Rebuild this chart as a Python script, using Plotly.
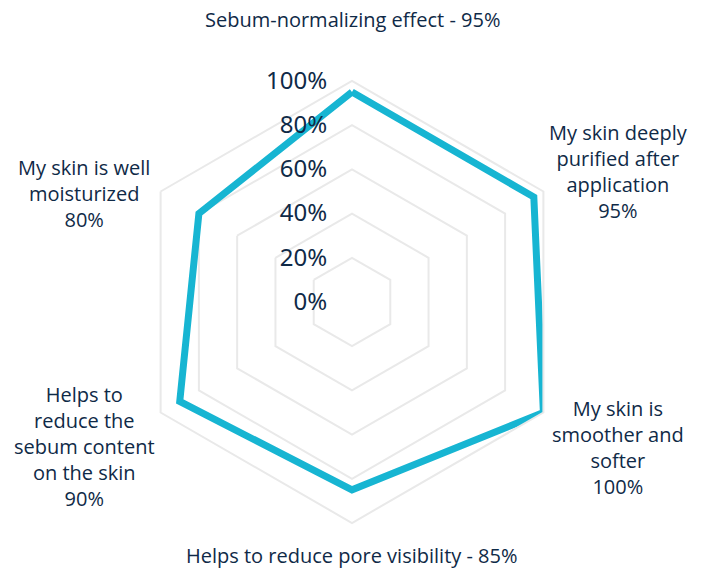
import plotly.graph_objects as go

categories = [
    "Sebum-normalizing effect",
    "My skin deeply purified after application",
    "My skin is smoother and softer",
    "Helps to reduce pore visibility",
    "Helps to reduce the sebum content on the skin",
    "My skin is well moisturized",
]
values = [95, 95, 100, 85, 90, 80]
label_texts = [
    "Sebum-normalizing effect - 95%",
    "My skin deeply<br>purified after<br>application<br>95%",
    "My skin is<br>smoother and<br>softer<br>100%",
    "Helps to reduce pore visibility - 85%",
    "Helps to<br>reduce the<br>sebum content<br>on the skin<br>90%",
    "My skin is well<br>moisturized<br>80%",
]
radial_ticks = [0, 20, 40, 60, 80, 100]
radial_ticktext = ["0%", "20%", "40%", "60%", "80%", "100%"]

W, H = 704, 568
NAVY = "#0f2a47"
CYAN = "#17b5d2"
GRID = "#e9e9e9"

# label anchor positions in pixels (centre of text block)
label_px = [(352, 20), (618, 171), (618, 447), (352, 555), (84, 446), (84, 193)]

fig = go.Figure()
fig.add_trace(go.Scatterpolar(
    r=values + values[:1],
    theta=categories + categories[:1],
    mode="lines",
    line=dict(color=CYAN, width=7),
    hoverinfo="skip",
    showlegend=False,
))

cx, cy, R = 352, 302, 221
fig.update_layout(
    width=W, height=H,
    margin=dict(l=0, r=0, t=0, b=0),
    paper_bgcolor="white",
    plot_bgcolor="white",
    polar=dict(
        domain=dict(x=[(cx - R) / W, (cx + R) / W], y=[1 - (cy + R) / H, 1 - (cy - R) / H]),
        gridshape="linear",
        bgcolor="white",
        radialaxis=dict(
            range=[0, 100],
            tickvals=radial_ticks,
            ticktext=radial_ticktext,
            angle=90,
            tickangle=90,
            side="counterclockwise",
            showline=False,
            ticks="outside",
            ticklen=16,
            tickcolor="rgba(0,0,0,0)",
            gridcolor=GRID,
            gridwidth=2,
            tickfont=dict(family="Noto Sans", size=24, color=NAVY),
        ),
        angularaxis=dict(
            direction="clockwise",
            rotation=90,
            showgrid=False,
            showline=True,
            linecolor=GRID,
            linewidth=2,
            showticklabels=False,
            ticks="",
        ),
    ),
)

for (px, py), txt in zip(label_px, label_texts):
    fig.add_annotation(
        x=px / W, y=1 - py / H, xref="paper", yref="paper",
        text=txt, showarrow=False, xanchor="center", yanchor="middle",
        align="center",
        font=dict(family="Open Sans", size=20, color=NAVY),
    )

fig.write_html("out.html", config={"displayModeBar": False},
               post_script="document.body.style.margin='0';")
